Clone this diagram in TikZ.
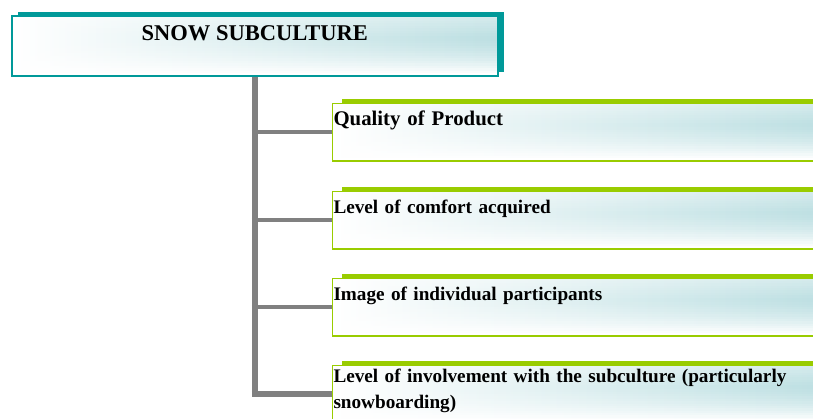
\documentclass[tikz,border=0pt]{standalone}
\usepackage{fontspec}
\setmainfont{Liberation Serif}
\usepackage{xcolor}
\usetikzlibrary{positioning,shadows,calc}
\definecolor{rootteal}{HTML}{009999}
\definecolor{leafgreen}{HTML}{99CC00}
\definecolor{paleteal}{HTML}{BCDFE2}
\definecolor{stemgray}{HTML}{808080}
\tikzset{
  glassfill/.style={path picture={
      \shade[left color=white, middle color=white!40!paleteal, right color=paleteal]
        (path picture bounding box.south west) rectangle (path picture bounding box.north east);
      % whiten towards the bottom edge (and a little at the top)
      \foreach \k in {0,...,23}{
        \pgfmathsetmacro\ta{\k/24}
        \pgfmathsetmacro\tb{(\k+1)/24}
        \pgfmathsetmacro\xa{max(0,\ta-0.35)/0.6}
        \pgfmathsetmacro\op{min(1,max(0,0.35-\ta)+\xa*(0.4+0.6*\xa))}
        \fill[white, fill opacity=\op]
          ($(path picture bounding box.north west)!\ta!(path picture bounding box.south west)$) rectangle
          ($(path picture bounding box.north east)!\tb!(path picture bounding box.south east)$);
      }
  }}
}

\begin{document}
\begin{tikzpicture}[x=1pt, y=-1pt,
      rootbox/.style = {glassfill, draw=rootteal, line width=1.5pt, anchor=north west, inner sep=0pt,
                        minimum width=486pt, text height=25pt, text depth=35pt,
                        font=\fontsize{22.5}{27}\selectfont\bfseries,
                        general shadow={fill=rootteal, shadow xshift=6pt, shadow yshift=4pt}},
      leafbox/.style = {glassfill, draw=leafgreen, line width=1pt, anchor=north west, inner xsep=1pt, inner ysep=0pt,
                        text width=490pt, align=left, text height=22pt, text depth=35pt,
                        font=\fontsize{19.2}{26}\selectfont\bfseries,
                        general shadow={fill=leafgreen, shadow xshift=9pt, shadow yshift=5pt}},
      stem/.style = {draw=stemgray, line width=4pt}]
  \useasboundingbox (0,0) rectangle (813,418);

  \node[rootbox] (root) at (11,15) {SNOW SUBCULTURE};
  \node[leafbox, font=\fontsize{20.8}{26}\selectfont\bfseries] (c1) at (332,103) {Quality of Product};
  \node[leafbox] (c2) at (332,191) {Level of comfort acquired};
  \node[leafbox] (c3) at (332,278) {Image of individual participants};
  \node[leafbox, text height=17pt, text depth=40pt] (c4) at (332,365) {Level of involvement with the subculture (particularly\\snowboarding)};

  % thicker bottom edges
  \foreach \c in {c1,c2,c3,c4}
    \draw[leafgreen, line width=2.5pt] (\c.south west) -- (\c.south east);

  % tree stem
  \draw[stem, line width=6pt] (root.south) -- ([yshift=-2pt]root.south |- c4.west);
  \foreach \c in {c1,c2,c3}
    \draw[stem] ([xshift=-3pt]root.south |- \c.west) -- (\c.west);
  \draw[stem, line width=5.5pt] ([xshift=-3pt]root.south |- c4.west) -- (c4.west);
\end{tikzpicture}
\end{document}
